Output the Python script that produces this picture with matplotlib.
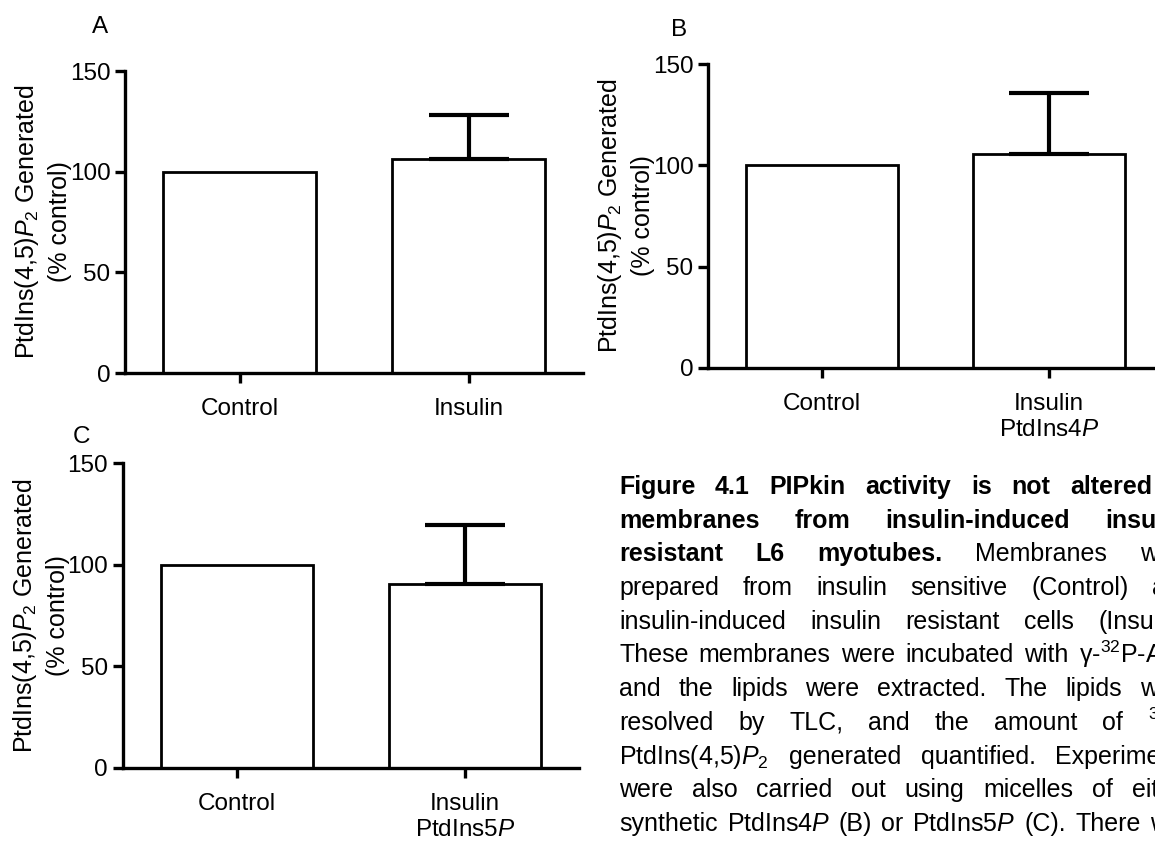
import matplotlib
matplotlib.use("Agg")
import matplotlib.pyplot as plt

plt.rcParams["font.family"] = ["Liberation Sans", "DejaVu Sans"]
plt.rcParams["mathtext.fontset"] = "custom"
plt.rcParams["mathtext.rm"] = "Liberation Sans"
plt.rcParams["mathtext.it"] = "Liberation Sans:italic"
plt.rcParams["mathtext.bf"] = "Liberation Sans:bold"
plt.rcParams["mathtext.default"] = "regular"

# ---- data -------------------------------------------------------------
groups = ["Control", "Insulin"]

a_means = [100.0, 106.4]
a_sem = [0.0, 21.6]
a_ticklabels = ["Control", "Insulin"]

b_means = [100.0, 105.5]
b_sem = [0.0, 30.1]
b_ticklabels = ["Control", "Insulin\nPtdIns4$\\mathit{P}$"]

c_means = [100.0, 90.5]
c_sem = [0.0, 29.0]
c_ticklabels = ["Control", "Insulin\nPtdIns5$\\mathit{P}$"]

y_ticks = [0, 50, 100, 150]
y_label = "PtdIns(4,5)$\\mathit{P}_2$ Generated\n(% control)"

caption_lines = [
    ("Figure 4.1 PIPkin activity is not altered in", 8),
    ("membranes from insulin-induced insulin-", 4),
    ("resistant L6 myotubes. Membranes were", 3),
    ("prepared from insulin sensitive (Control) and", 0),
    ("insulin-induced insulin resistant cells (Insulin).", 0),
    ("These membranes were incubated with \u03b3-$^{32}$P-ATP", 0),
    ("and the lipids were extracted. The lipids were", 0),
    ("resolved by TLC, and the amount of $^{32}$P-", 0),
    ("PtdIns(4,5)$\\mathit{P}_2$ generated quantified. Experiments", 0),
    ("were also carried out using micelles of either", 0),
    ("synthetic PtdIns4$\\mathit{P}$ (B) or PtdIns5$\\mathit{P}$ (C). There was", 0),
]

# ---- figure -----------------------------------------------------------
W, H = 1155, 841
fig = plt.figure(figsize=(W / 100, H / 100), dpi=100)
fig.patch.set_facecolor("white")

TICK_FS = 17.5
LW_AX = 2.4


def px_axes(x0, x1, ytop, ybot):
    return fig.add_axes([x0 / W, 1 - ybot / H, (x1 - x0) / W, (ybot - ytop) / H])


def bar_panel(ax, means, sems, ticklabels):
    x = list(range(len(groups)))
    ax.bar(x, means, width=0.667, color="white", edgecolor="black",
           linewidth=2.0, zorder=2)
    ex = [xi for xi, s in zip(x, sems) if s > 0]
    ey = [m for m, s in zip(means, sems) if s > 0]
    es = [s for s in sems if s > 0]
    ax.errorbar(ex, ey, yerr=[[0] * len(es), es], fmt="none", ecolor="black",
                elinewidth=3.0, capsize=28.7, capthick=3.0, zorder=3)
    ax.set_xlim(-0.5, 1.5)
    ax.set_ylim(0, 150)
    ax.set_yticks(y_ticks)
    ax.set_xticks(x)
    ax.set_xticklabels(ticklabels, fontsize=TICK_FS, linespacing=1.25)
    ax.tick_params(axis="y", labelsize=TICK_FS, length=7, width=LW_AX, pad=3.5)
    ax.tick_params(axis="x", length=7, width=LW_AX, pad=11)
    for side in ("top", "right"):
        ax.spines[side].set_visible(False)
    for side in ("left", "bottom"):
        ax.spines[side].set_linewidth(LW_AX)
    ax.spines["left"].set_zorder(4)
    ax.spines["bottom"].set_zorder(4)
    ax.set_ylabel(y_label, fontsize=18, linespacing=1.35)
    ax.patch.set_alpha(0)


panels = [
    ((125, 583, 71, 373), a_means, a_sem, a_ticklabels, "A", (100, 27)),
    ((708, 1163, 64.3, 367.7), b_means, b_sem, b_ticklabels, "B", (679, 30)),
    ((122.5, 579.3, 463.3, 767.7), c_means, c_sem, c_ticklabels, "C", (82, 437)),
]

for (x0, x1, yt, yb), m, s, tl, letter, (lx, ly) in panels:
    ax = px_axes(x0, x1, yt, yb)
    bar_panel(ax, m, s, tl)
    ax.yaxis.set_label_coords(-53 / (x1 - x0), 0.5)
    fig.text(lx / W, 1 - ly / H, letter, fontsize=TICK_FS, ha="center", va="center")

# ---- justified caption -----------------------------------------------
renderer = fig.canvas.get_renderer()
CAP_X0, CAP_X1 = 619, 1194
CAP_Y0, CAP_DY = 494, 33.7
CAP_FS = 18

for i, (line, n_bold) in enumerate(caption_lines):
    words = line.split(" ")
    texts = []
    for j, w in enumerate(words):
        t = fig.text(0, 0, w, fontsize=CAP_FS, va="baseline", ha="left",
                     fontweight="bold" if j < n_bold else "normal")
        texts.append(t)
    widths = [t.get_window_extent(renderer).width for t in texts]
    gap = (CAP_X1 - CAP_X0 - sum(widths)) / max(len(words) - 1, 1)
    x = CAP_X0
    yb = CAP_Y0 + i * CAP_DY
    for t, wd in zip(texts, widths):
        t.set_position((x / W, 1 - yb / H))
        x += wd + gap

fig.savefig("out.png", dpi=100, facecolor="white")
